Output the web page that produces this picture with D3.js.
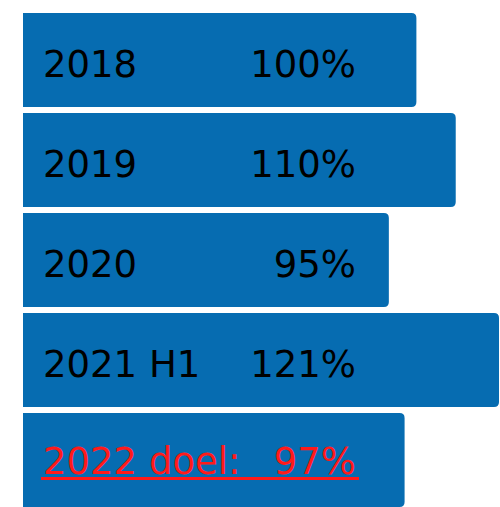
<!DOCTYPE html>
<html>
<head>
<meta charset="utf-8">
<script src="https://cdn.jsdelivr.net/npm/d3@7"></script>
<style>
  body { margin: 0; background: #fff; }
  svg { display: block; }
</style>
</head>
<body>
<svg id="chart" width="500" height="507"></svg>
<script>
"use strict";

// data
const categories = ["2018", "2019", "2020", "2021 H1", "2022 doel:"];
const barValues = [100, 110, 93, 121, 97];   // bar lengths as drawn
const pctLabels = ["100%", "110%", "95%", "121%", "97%"];
const highlight = [false, false, false, false, true];

// setting
const padLeft = 23, padRight = 499, padTop = 13, padBottom = 507, radius = 5;
const blue = "#066cb1", red = "#ff1a1a";
const font = "DejaVu Sans, Verdana, sans-serif";

let svg = d3.select("#chart");

// scales
let scaleX = d3.scaleLinear()
  .domain([0, d3.max(barValues)])
  .range([padLeft, padRight]);

let scaleY = d3.scaleBand()
  .domain(categories)
  .range([padTop, padBottom])
  .paddingInner(0.06)
  .paddingOuter(0);

const barH = scaleY.bandwidth();

// bar path: square left side, rounded right corners
function barPath(x0, x1, h, r) {
  return `M${x0},0H${x1 - r}Q${x1},0 ${x1},${r}V${h - r}Q${x1},${h} ${x1 - r},${h}H${x0}Z`;
}

let rows = svg.selectAll("g.row")
  .data(categories)
  .join("g")
  .attr("class", "row")
  .attr("transform", d => `translate(0, ${scaleY(d)})`);

rows.append("path")
  .attr("d", (d, i) => barPath(scaleX(0), scaleX(barValues[i]), barH, radius))
  .attr("fill", blue);

// labels
rows.append("text")
  .attr("x", 43)
  .attr("y", (d, i) => highlight[i] ? 61 : 64)
  .attr("font-family", font)
  .attr("font-size", 37)
  .attr("fill", (d, i) => highlight[i] ? red : "#000")
  .text(d => d);

rows.append("text")
  .attr("x", 356)
  .attr("y", (d, i) => highlight[i] ? 61 : 64)
  .attr("text-anchor", "end")
  .attr("font-family", font)
  .attr("font-size", 37)
  .attr("fill", (d, i) => highlight[i] ? red : "#000")
  .text((d, i) => pctLabels[i]);

// underline for highlighted row
rows.filter((d, i) => highlight[i])
  .append("rect")
  .attr("x", 41)
  .attr("y", 64)
  .attr("width", 318)
  .attr("height", 3)
  .attr("fill", red);
</script>
</body>
</html>
